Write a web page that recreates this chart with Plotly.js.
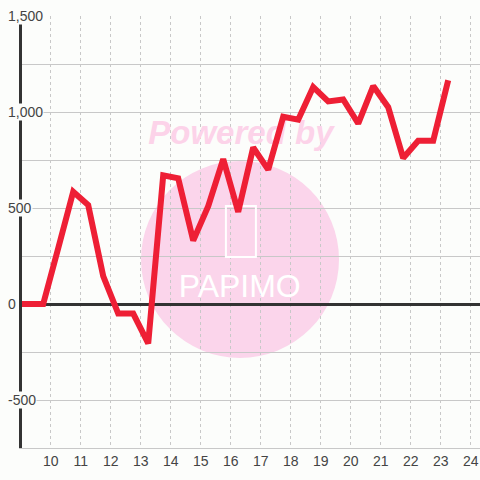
<!DOCTYPE html>
<html>
<head>
<meta charset="utf-8">
<script src="https://cdn.plot.ly/plotly-3.0.1.min.js"></script>
<style>html,body{margin:0;padding:0;background:#fcfdfb;}#chart{width:480px;height:480px;}</style>
</head>
<body>
<div id="chart"></div>
<script>
// Data
const xValues = [8.75, 9.25, 9.75, 10.25, 10.75, 11.25, 11.75, 12.25, 12.75, 13.25,
                 13.75, 14.25, 14.75, 15.25, 15.75, 16.25, 16.75, 17.25, 17.75, 18.25,
                 18.75, 19.25, 19.75, 20.25, 20.75, 21.25, 21.75, 22.25, 22.75, 23.25];
const yValues = [0, 0, 0, 290, 585, 515, 145, -50, -50, -205,
                 670, 655, 330, 510, 755, 480, 815, 700, 975, 960,
                 1130, 1055, 1065, 940, 1135, 1025, 760, 850, 850, 1165];
const xTickVals = [10, 11, 12, 13, 14, 15, 16, 17, 18, 19, 20, 21, 22, 23, 24];
const xTickText = ['10', '11', '12', '13', '14', '15', '16', '17', '18', '19', '20', '21', '22', '23', '24'];
const yTickVals = [1500, 1000, 500, 0, -500];
const yTickText = ['1,500', '1,000', '500', '0', '-500'];
const watermarkTop = 'Powered by';
const watermarkBrand = 'PAPIMO';

const bg = '#fcfdfb';
const font = 'Liberation Sans, Arial, sans-serif';

const traces = [
  {
    x: [16.34], y: [875], mode: 'text', text: [watermarkTop],
    textfont: {family: font, size: 33, color: '#fcd3e9', weight: 'bold', style: 'italic'},
    hoverinfo: 'skip', showlegend: false
  },
  {
    x: [16.3], y: [80], mode: 'text', text: [watermarkBrand],
    textfont: {family: font, size: 32, color: '#ffffff'},
    hoverinfo: 'skip', showlegend: false
  },
  {
    x: xValues, y: yValues, mode: 'lines',
    line: {color: '#ee1f35', width: 6},
    hoverinfo: 'x+y', showlegend: false
  }
];

const annotations = yTickVals.map((v, i) => ({
  xref: 'paper', x: 0, xanchor: 'left', xshift: -15,
  yref: 'y', y: v, yanchor: 'middle',
  text: yTickText[i], showarrow: false,
  bgcolor: bg, borderpad: 0,
  font: {family: font, size: 14, color: '#444'}
}));

const layout = {
  width: 480, height: 480,
  margin: {l: 22, r: 0, t: 16, b: 32},
  paper_bgcolor: bg, plot_bgcolor: bg,
  showlegend: false,
  xaxis: {
    range: [9.043, 24.31],
    tickvals: xTickVals, ticktext: xTickText,
    showgrid: true, gridcolor: '#c8c8c8', gridwidth: 1, griddash: '3px,3px',
    zeroline: false,
    showline: true, linecolor: '#c8c8c8', linewidth: 1,
    ticks: '', tickfont: {family: font, size: 14, color: '#444'}
  },
  yaxis: {
    range: [-750, 1500],
    dtick: 250, tick0: 0,
    showgrid: true, gridcolor: '#c8c8c8', gridwidth: 1,
    zeroline: true, zerolinecolor: '#333', zerolinewidth: 3,
    showline: true, linecolor: '#333', linewidth: 3,
    showticklabels: false, ticks: ''
  },
  shapes: [
    {type: 'circle', xref: 'x', yref: 'y', x0: 13.01, x1: 19.61, y0: -281, y1: 745,
     fillcolor: '#fbd5eb', line: {width: 0}, layer: 'below'},
    {type: 'rect', xref: 'x', yref: 'y', x0: 15.84, x1: 16.84, y0: 245, y1: 510,
     fillcolor: 'rgba(0,0,0,0)', line: {color: '#ffffff', width: 2}, layer: 'between'}
  ],
  annotations: annotations
};

Plotly.newPlot('chart', traces, layout, {displayModeBar: false, staticPlot: true});
</script>
</body>
</html>
